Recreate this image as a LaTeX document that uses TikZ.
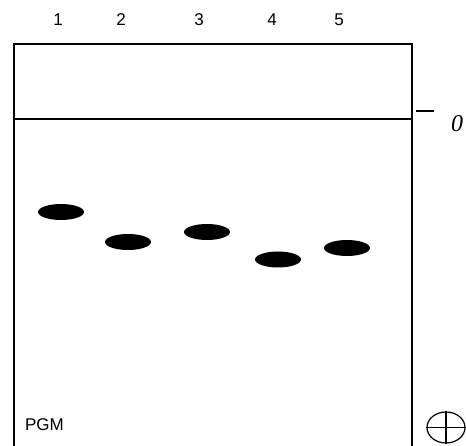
\documentclass[tikz,border=0pt]{standalone}
\usepackage{fontspec}
\setmainfont{Liberation Sans}
\newfontfamily\serifit{Liberation Serif}
\usetikzlibrary{shapes.geometric}
\begin{document}
\begin{tikzpicture}[x=1pt,y=-1pt,
  frame/.style={line width=1.2pt},
  band/.style={ellipse,fill=black,inner sep=0pt,minimum width=46pt,minimum height=16pt},
  lanelbl/.style={inner sep=0pt,font=\fontsize{17}{19}\selectfont}]
\useasboundingbox (0,0) rectangle (466,446);
\coordinate (bl) at (14,446);
\coordinate (tl) at (14,44);
\coordinate (tr) at (412,44);
\coordinate (br) at (412,446);
\coordinate (ol) at (14,119);
\coordinate (or) at (412,119);
\draw[frame] (bl) -- (tl) -- (tr) -- (br);
\draw[frame] (ol) -- (or);
% lane labels
\node[lanelbl] (l1) at (58,20) {1};
\node[lanelbl] (l2) at (121,20) {2};
\node[lanelbl] (l3) at (199,20) {3};
\node[lanelbl] (l4) at (272,20) {4};
\node[lanelbl] (l5) at (339,20) {5};
% bands
\node[band] (b1) at (61,212) {};
\node[band] (b2) at (128,242) {};
\node[band] (b3) at (207,232) {};
\node[band] (b4) at (278,259.5) {};
\node[band] (b5) at (347,248) {};
% minus sign and origin
\coordinate (m1) at (416,111);
\coordinate (m2) at (434,111);
\draw[line width=2pt] (m1) -- (m2);
\node[inner sep=0pt,font=\serifit\itshape\fontsize{24}{26}\selectfont] (zero) at (457,124) {0};
% PGM
\node[lanelbl] (pgm) at (44.5,425) {PGM};
% plus (anode)
\node[ellipse,draw,line width=1.2pt,minimum width=38pt,minimum height=31pt,inner sep=0pt] (plus) at (446,427.5) {};
\draw[line width=1.2pt] (plus.north) -- (plus.south) (plus.west) -- (plus.east);
\end{tikzpicture}
\end{document}
